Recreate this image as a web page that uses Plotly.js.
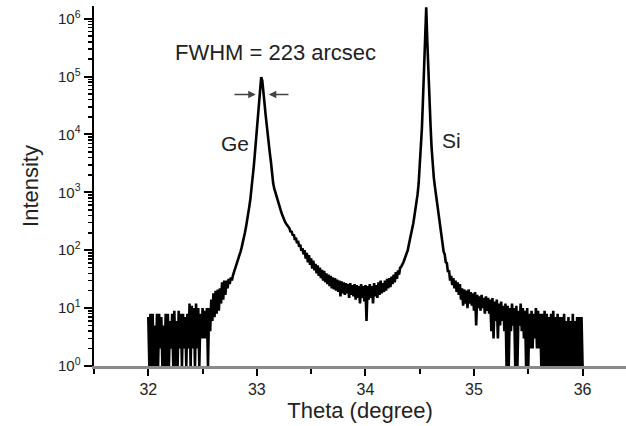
<!DOCTYPE html>
<html>
<head>
<meta charset="utf-8">
<script src="https://cdn.plot.ly/plotly-3.0.1.min.js"></script>
<style>html,body{margin:0;padding:0;background:#fff}#chart{width:626px;height:426px}</style>
</head>
<body>
<div id="chart"></div>
<script>
// Scan grid: theta from 32.00 to 36.00 degrees in 0.01 degree steps
const thetaStart = 32.00;
const thetaStep = 0.01;

// Measured intensity (counts), one row per 0.1 degree (10 points each)
const intensity = [
  7,1,8,1,8,1,5,1,8,1,                                   // 32.0
  8,2,7,1,5,1,8,1,8,1,                                   // 32.1
  6,2,8,1,9,1,6,1,9,2,                                   // 32.2
  8,1,8,2,7,1,8,2,12,1,                                  // 32.3
  11,2,10,1,12,2,10,1,8,3,                               // 32.4
  10,3,9,3,10,1,10,4,14,6,                               // 32.5
  18,7,20,8,21,9,22,12,28,14,                            // 32.6
  30,17,30,22,32,26,34,30,37,42,                         // 32.7
  48,55,63,72,83,95,112,132,158,200,                     // 32.8
  251,316,417,562,759,1070,1660,2630,4270,7080,          // 32.9
  12000,20900,35500,57500,98000,85000,60000,35500,22400,14100, // 33.0
  9550,6600,4680,3310,2090,1450,1175,1000,850,741,       // 33.1
  646,562,490,427,372,331,309,288,269,251,               // 33.2
  240,205,215,180,190,150,165,132,145,115,               // 33.3
  125,98,108,85,100,72,90,62,82,56,                      // 33.4
  72,48,66,45,58,40,55,36,50,33,                         // 33.5
  46,30,44,28,40,26,38,24,36,22,                         // 33.6
  34,21,33,20,31,19,30,16,29,18,                         // 33.7
  28,17,27,18,26,15,27,17,25,16,                         // 33.8
  26,14,25,15,24,12,26,15,24,13,                         // 33.9
  25,6,24,14,26,15,24,12,27,16,                          // 34.0
  25,15,28,17,30,18,27,19,30,20,                         // 34.1
  32,22,33,23,35,26,38,28,42,32,                         // 34.2
  45,38,50,52,56,62,70,79,89,100,                        // 34.3
  126,151,182,229,288,380,501,661,912,1410,              // 34.4
  2820,5620,12600,39800,141000,562000,1580000,398000,100000,35500, // 34.5
  14100,5620,2820,1780,1260,891,631,479,355,263,         // 34.6
  158,120,95,85,62,60,42,45,30,36,                       // 34.7
  25,33,22,30,19,28,17,26,14,22,                         // 34.8
  11,21,12,20,10,21,12,19,11,18,                         // 34.9
  9,19,5,17,10,16,9,17,10,15,                            // 35.0
  8,16,9,15,8,14,4,15,3,13,                              // 35.1
  6,14,3,12,5,13,6,11,4,12,                              // 35.2
  1,11,1,10,4,12,5,10,1,11,                              // 35.3
  1,9,5,12,4,10,3,9,1,10,                                // 35.4
  1,8,2,9,2,8,3,10,2,9,                                  // 35.5
  2,8,1,8,1,9,1,8,1,7,                                   // 35.6
  1,8,1,9,1,7,1,8,1,7,                                   // 35.7
  1,7,1,8,1,6,1,7,1,6,                                   // 35.8
  1,8,1,6,1,7,1,7,1,7,                                   // 35.9
  1                                                      // 36.0
];

const xTickVals = [32, 33, 34, 35, 36];
const yTickVals = [1, 10, 100, 1000, 10000, 100000, 1000000];
const yTickText = ['10<sup>0</sup>','10<sup>1</sup>','10<sup>2</sup>','10<sup>3</sup>','10<sup>4</sup>','10<sup>5</sup>','10<sup>6</sup>'];

const theta = intensity.map((_, i) => +(thetaStart + i * thetaStep).toFixed(2));

const yMinor = [];
for (let d = 0; d < 6; d++) for (let m = 2; m <= 9; m++) yMinor.push(m * Math.pow(10, d));

const FONT = 'Liberation Sans, Arial, sans-serif';

const trace = {
  x: theta, y: intensity, type: 'scatter', mode: 'lines',
  line: {color: '#000', width: 2.6}, hoverinfo: 'skip'
};

const layout = {
  width: 626, height: 426,
  margin: {l: 94, r: 0, t: 6, b: 60},
  paper_bgcolor: '#fff', plot_bgcolor: '#fff',
  showlegend: false,
  font: {family: FONT, color: '#222'},
  xaxis: {
    range: [31.5, 36.4],
    tickmode: 'array', tickvals: xTickVals,
    ticks: 'outside', ticklen: 7, tickwidth: 2, tickcolor: '#000',
    minor: {tickmode: 'array', tickvals: [31.5, 32.5, 33.5, 34.5, 35.5], ticks: 'outside', ticklen: 5, tickwidth: 2, tickcolor: '#000', showgrid: false},
    showline: true, linecolor: '#8a8a8a', linewidth: 2.5,
    showgrid: false, zeroline: false,
    tickfont: {size: 16, family: FONT, color: '#222'},
    title: {text: 'Theta (degree)', font: {size: 22, family: FONT, color: '#222'}, standoff: 6}
  },
  yaxis: {
    type: 'log', range: [0, 6.22],
    tickmode: 'array', tickvals: yTickVals, ticktext: yTickText,
    ticks: 'outside', ticklen: 8, tickwidth: 2, tickcolor: '#000',
    minor: {tickmode: 'array', tickvals: yMinor, ticks: 'outside', ticklen: 4, tickwidth: 1.5, tickcolor: '#000', showgrid: false},
    showline: true, linecolor: '#000', linewidth: 2.5,
    showgrid: false, zeroline: false,
    tickfont: {size: 15, family: FONT, color: '#222'},
    title: {text: 'Intensity', font: {size: 22, family: FONT, color: '#222'}, standoff: 14}
  },
  annotations: [
    {x: 33.176, y: 5.42, xref: 'x', yref: 'y', text: 'FWHM = 223 arcsec', showarrow: false, font: {size: 22, family: FONT, color: '#222'}},
    {x: 32.80, y: 3.85, xref: 'x', yref: 'y', text: 'Ge', showarrow: false, font: {size: 21, family: FONT, color: '#222'}},
    {x: 34.79, y: 3.90, xref: 'x', yref: 'y', text: 'Si', showarrow: false, font: {size: 21, family: FONT, color: '#222'}},
    {x: 32.99, y: 4.69, ax: 32.78, ay: 4.69, xref: 'x', yref: 'y', axref: 'x', ayref: 'y', text: '', showarrow: true, arrowhead: 2, arrowsize: 1, arrowwidth: 1.5, arrowcolor: '#444'},
    {x: 33.11, y: 4.69, ax: 33.305, ay: 4.69, xref: 'x', yref: 'y', axref: 'x', ayref: 'y', text: '', showarrow: true, arrowhead: 2, arrowsize: 1, arrowwidth: 1.5, arrowcolor: '#444'}
  ]
};

Plotly.newPlot('chart', [trace], layout, {staticPlot: true, displayModeBar: false});
</script>
</body>
</html>
